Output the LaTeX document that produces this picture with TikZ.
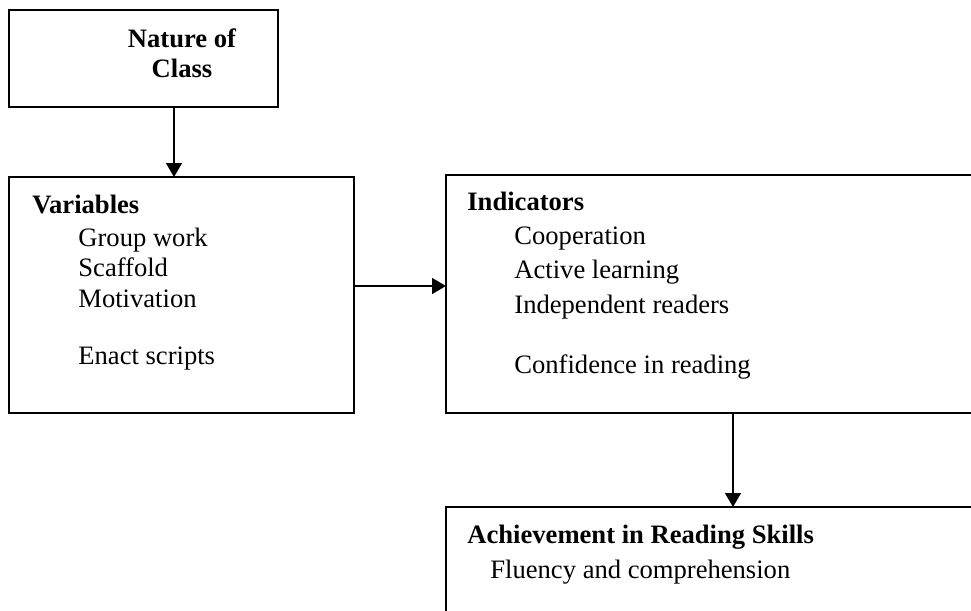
\documentclass[tikz,border=0pt]{standalone}
\usepackage{fontspec}
\setmainfont{Liberation Serif}
\usetikzlibrary{arrows.meta}
\tikzset{
  box/.style={draw, line width=1pt, inner sep=0pt, outer sep=0pt, anchor=north west},
  txt/.style={anchor=base west, inner sep=0pt, font=\fontsize{13.3}{16}\selectfont},
  head/.style={txt, font=\fontsize{13.3}{16}\selectfont\bfseries},
  arr/.style={line width=0.75pt, -{Triangle[width=8pt,length=7pt]}}
}
\begin{document}
\begin{tikzpicture}[x=0.5pt, y=0.5pt]
    \useasboundingbox (0, 0) rectangle (971, -611);
    \clip (0, 0) rectangle (971, -611);

    % boxes
    \node[box, minimum width=134.5pt, minimum height=48.5pt] (nature) at (9, -10) {};
    \node[box, minimum width=172.5pt, minimum height=118pt] (vars) at (9, -177) {};
    \node[box, minimum width=300pt, minimum height=119pt] (ind) at (446, -175) {};
    \node[box, minimum width=300pt, minimum height=90pt] (ach) at (446, -507) {};

    % texts
    \node[head, anchor=base] (t1) at (182, -47) {Nature of};
    \node[head, anchor=base] (t2) at (182, -77) {Class};

    \node[head] (v0) at (32, -213) {Variables};
    \node[txt] (v1) at (78, -246) {Group work};
    \node[txt] (v2) at (78, -276) {Scaffold};
    \node[txt] (v3) at (78, -307) {Motivation};
    \node[txt] (v4) at (78, -364) {Enact scripts};

    \node[head] (i0) at (467, -210) {Indicators};
    \node[txt] (i1) at (514, -244) {Cooperation};
    \node[txt] (i2) at (514, -278) {Active learning};
    \node[txt] (i3) at (514, -313) {Independent readers};
    \node[txt] (i4) at (514, -373) {Confidence in reading};

    \node[head] (a0) at (467, -543) {Achievement in Reading Skills};
    \node[txt] (a1) at (490, -578) {Fluency and comprehension};

    % arrows
    \draw[arr] (nature.south west) ++(165, 0) coordinate (c1) -- (c1 |- vars.north);
    \draw[arr] ([yshift=4.5pt]vars.east) -- ([yshift=4.5pt]vars.east -| ind.west);
    \draw[arr] (ind.south west) ++(287, 0) coordinate (c3) -- (c3 |- ach.north);
\end{tikzpicture}
\end{document}
